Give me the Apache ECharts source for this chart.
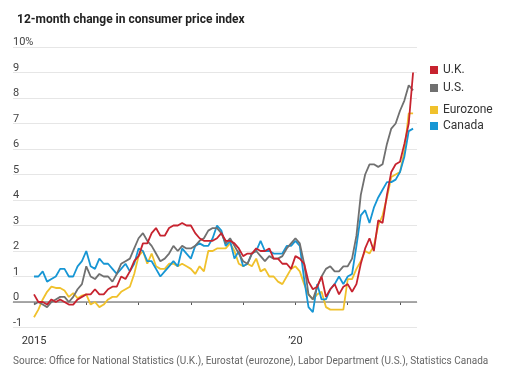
<!DOCTYPE html>
<html>
<head>
<meta charset="utf-8">
<script src="https://cdn.jsdelivr.net/npm/echarts@6/dist/echarts.min.js"></script>
<style>
html,body{margin:0;padding:0;background:#fff;}
#chart{width:521px;height:388px;}
</style>
</head>
<body>
<div id="chart"></div>
<script>
// Months Jan 2015 .. Apr 2022 (index 0..87)
var years = ['2015','2016','2017','2018','2019','2020','2021','2022'];
var months = [];
years.forEach(function(y){ for (var m = 1; m <= 12; m++) { if (y === '2022' && m > 4) break; months.push(y + '-' + (m < 10 ? '0' + m : m)); } });

var uk = [
 0.3,0.0,0.0,-0.1,0.1,0.0,0.1,0.0,-0.1,-0.1,0.1,0.2,
 0.3,0.3,0.5,0.3,0.3,0.5,0.6,0.6,1.0,0.9,1.2,1.6,
 1.8,2.3,2.3,2.7,2.9,2.6,2.6,2.9,3.0,3.0,3.1,3.0,
 3.0,2.7,2.5,2.4,2.4,2.4,2.5,2.7,2.4,2.4,2.3,2.1,
 1.8,1.9,1.9,2.1,2.0,2.0,2.1,1.7,1.7,1.5,1.5,1.3,
 1.8,1.7,1.5,0.8,0.5,0.6,1.0,0.2,0.5,0.7,0.3,0.6,
 0.7,0.4,0.7,1.5,2.1,2.5,2.0,3.2,3.1,4.2,5.1,5.4,
 5.5,6.2,7.0,9.0];
var us = [
 -0.1,0.0,-0.1,-0.2,0.0,0.1,0.2,0.2,0.0,0.2,0.5,0.7,
 1.4,1.0,0.9,1.1,1.0,1.0,0.8,1.1,1.5,1.6,1.7,2.1,
 2.5,2.7,2.4,2.2,1.9,1.6,1.7,1.9,2.2,2.0,2.2,2.1,
 2.1,2.2,2.4,2.5,2.8,2.9,2.9,2.7,2.3,2.5,2.2,1.9,
 1.6,1.5,1.9,2.0,1.8,1.6,1.8,1.7,1.7,1.8,2.1,2.3,
 2.5,2.3,1.5,0.3,0.1,0.6,1.0,1.3,1.4,1.2,1.2,1.4,
 1.4,1.7,2.6,4.2,5.0,5.4,5.4,5.3,5.4,6.2,6.8,7.0,
 7.5,7.9,8.5,8.3];
var eurozone = [
 -0.6,-0.3,0.1,0.4,0.6,0.55,0.55,0.45,0.2,0.35,0.15,0.25,
 0.3,-0.1,0.0,-0.2,-0.1,0.1,0.2,0.2,0.4,0.5,0.6,1.1,
 1.8,2.0,1.5,1.9,1.4,1.3,1.3,1.5,1.5,1.4,1.5,1.4,
 1.3,1.1,1.4,1.2,2.0,2.0,2.1,2.1,2.1,2.3,2.0,1.5,
 1.4,1.5,1.4,1.7,1.2,1.3,1.0,1.0,0.8,0.7,1.0,1.3,
 1.4,1.2,0.7,0.3,0.1,0.3,0.4,-0.2,-0.3,-0.3,-0.3,-0.3,
 0.9,0.9,1.3,1.6,2.0,1.9,2.2,3.0,3.4,4.1,4.9,5.0,
 5.1,5.9,7.4,7.4];
var canada = [
 1.0,1.0,1.2,0.8,0.9,1.0,1.3,1.3,1.0,1.0,1.4,1.6,
 2.0,1.4,1.3,1.7,1.5,1.5,1.3,1.1,1.3,1.5,1.2,1.5,
 2.1,2.0,1.6,1.6,1.3,1.0,1.2,1.4,1.6,1.4,2.1,1.9,
 1.7,2.2,2.3,2.2,2.2,2.5,3.0,2.8,2.2,2.4,1.7,2.0,
 1.4,1.5,1.9,2.0,2.4,2.0,2.0,1.9,1.9,1.9,2.2,2.2,
 2.4,2.2,0.9,-0.2,-0.4,0.7,0.1,0.1,0.5,0.7,1.0,0.7,
 1.0,1.1,2.2,3.4,3.6,3.1,3.7,4.1,4.4,4.7,4.7,4.8,
 5.1,5.7,6.7,6.8];

var xLabelIdx = [0, 60];
var xLabelText = {0: '2015', 60: '\u201920'};
var yearTickIdx = [0,12,24,36,48,60,72,84];

var FONT = 'Roboto, "Noto Sans", sans-serif';
var colors = {uk:'#c7232f', us:'#707070', ez:'#f0c12c', ca:'#1796d4'};

function pairs(arr){ return arr.map(function(v,i){ return [i, v]; }); }

var chart = echarts.init(document.getElementById('chart'), null, {renderer:'canvas'});
chart.setOption({
  animation: false,
  backgroundColor: '#fff',
  textStyle: {fontFamily: FONT},
  title: {
    text: '12-month change in consumer price index',
    left: 12, top: 9,
    textStyle: {fontSize: 12, fontWeight: 'bold', color: '#222', fontFamily: FONT}
  },
  graphic: [{
    type: 'text', left: 13, top: 356,
    style: {text: 'Source: Office for National Statistics (U.K.), Eurostat (eurozone), Labor Department (U.S.), Statistics Canada',
      fill: '#666', font: '10px ' + FONT}
  }],
  legend: [
    {data:[{name:'U.K.', icon:'rect'}], left:430, top:64},
    {data:[{name:'U.S.', icon:'rect'}], left:430, top:82},
    {data:[{name:'Eurozone', icon:'rect'}], left:430, top:104},
    {data:[{name:'Canada', icon:'rect'}], left:430, top:120}
  ].map(function(l){ l.itemWidth = 8; l.itemHeight = 8; l.padding = 0; l.itemGap = 0; l.selectedMode = false;
    l.textStyle = {fontSize: 12, color: '#333', fontFamily: FONT, padding:[0,0,0,0]}; return l; }),
  grid: {left: 13, right: 104, top: 47, bottom: 60.5, containLabel: false},
  xAxis: {
    type: 'value', min: -4.82, max: 87.9,
    axisLine: {show: true, lineStyle: {color: '#e3e3e3', width: 1}},
    axisTick: {show: true, customValues: yearTickIdx, length: 3, lineStyle: {color: '#555'}},
    axisLabel: {customValues: xLabelIdx, formatter: function(v){ return xLabelText[Math.round(v)] || ''; },
      color: '#333', fontSize: 11, margin: 8, fontFamily: FONT},
    splitLine: {show: false}
  },
  yAxis: {
    type: 'value', min: -1, max: 10, interval: 1,
    axisLine: {show: false}, axisTick: {show: false},
    axisLabel: {inside: true, margin: 0, verticalAlign: 'bottom', align: 'left', lineHeight: 9, padding: 0,
      color: '#444', fontSize: 11, fontFamily: FONT,
      formatter: function(v){ return v === 10 ? '10%' : String(v); }},
    splitLine: {show: true, lineStyle: {color: '#e6e6e6', width: 1}}
  },
  series: [
    {name:'Eurozone', type:'line', data: pairs(eurozone), showSymbol:false, color: colors.ez, lineStyle:{width:1.8}},
    {name:'Canada', type:'line', data: pairs(canada), showSymbol:false, color: colors.ca, lineStyle:{width:1.8}},
    {name:'U.S.', type:'line', data: pairs(us), showSymbol:false, color: colors.us, lineStyle:{width:1.8},
      markLine: {silent:true, symbol:['none','none'], label:{show:false}, lineStyle:{color:'#8c8c8c', width:1.5, type:'solid'},
        data:[{yAxis:0}], z: 1}},
    {name:'U.K.', type:'line', data: pairs(uk), showSymbol:false, color: colors.uk, lineStyle:{width:1.8}}
  ]
});
</script>
</body>
</html>
